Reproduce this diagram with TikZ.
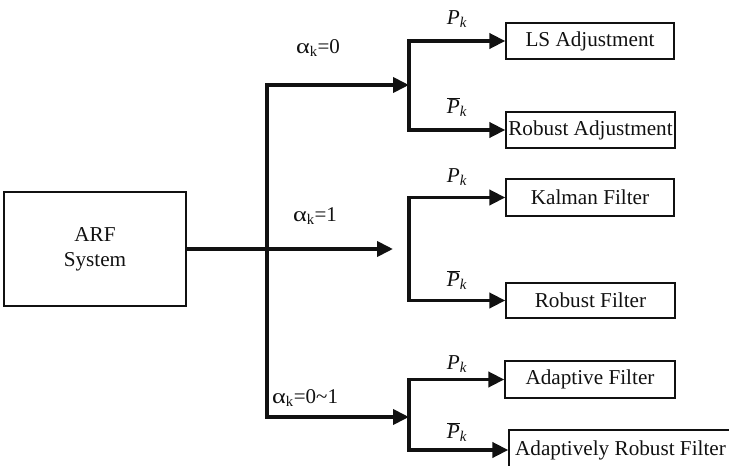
\documentclass[tikz,border=0pt]{standalone}
\usepackage{fontspec}
\setmainfont{Liberation Serif}
\usepackage{tikz}
\usetikzlibrary{arrows.meta,positioning}
\definecolor{trazo}{HTML}{111111}
\tikzset{
  caja/.style={draw=trazo,line width=1.3pt,inner sep=0pt,minimum height=36pt,font=\fontsize{21.2}{25}\selectfont,text=trazo,align=center},
  linea/.style={draw=trazo,line width=3.8pt},
  punta/.style={-{Triangle[length=16pt,width=15pt]}},
  rotulo/.style={font=\fontsize{21.2}{25}\selectfont,text=trazo,inner sep=0pt},
  alfa/.style={font=\fontsize{21}{25}\selectfont,text=trazo,inner sep=0pt},
}
\newcommand{\Pk}{\textit{P}\textsubscript{\textit{k}}}
\newcommand{\Pbk}{$\overline{\mbox{\textit{P}}}$\textsubscript{\textit{k}}}
\newcommand{\ak}{\scalebox{1.25}[1]{α}\textsubscript{k}}
\begin{document}
\begin{tikzpicture}[x=1pt,y=-1pt]
\clip (0,0) rectangle (729,466);
\node[caja,minimum width=182pt,minimum height=114pt] (arf) at (95,249) {ARF\\System};
\node[caja,minimum width=168pt] (ls) at (590,41) {LS Adjustment};
\node[caja,minimum width=169pt] (ra) at (590.5,130) {Robust Adjustment};
\node[caja,minimum width=168pt,minimum height=37pt] (kf) at (590,197.5) {Kalman Filter};
\node[caja,minimum width=169pt,minimum height=35pt] (rf) at (590.5,300.5) {Robust Filter};
\node[caja,minimum width=170pt,minimum height=37pt] (af) at (590,379.5) {Adaptive Filter};
\node[caja,minimum width=223pt,minimum height=40pt] (arfil) at (620.5,450) {Adaptively Robust Filter};
\coordinate (tronco) at (267,85);
\coordinate (pie) at (267,417);
\coordinate (r1) at (409,85);
\coordinate (r2) at (393,249);
\coordinate (r3) at (409,417);
% tronco y ramas
\draw[linea,{Triangle[length=16pt,width=15pt]}-{Triangle[length=16pt,width=15pt]}] (r1) -- (tronco) -- (pie) -- (r3);
\draw[linea,punta] (arf.east) -- (r2);
\draw[linea,{Triangle[length=16pt,width=15pt]}-{Triangle[length=16pt,width=15pt]}] (ls.west) -- (ls.west -| r1) -- (ra.west -| r1) -- (ra.west);
\draw[linea,{Triangle[length=16pt,width=15pt]}-{Triangle[length=16pt,width=15pt]}] (kf.west) -- (kf.west -| r1) -- (rf.west -| r1) -- (rf.west);
\draw[linea,{Triangle[length=16pt,width=15pt]}-{Triangle[length=16pt,width=15pt]}] (af.west) -- (af.west -| r3) -- (arfil.west -| r3) -- (arfil.west);
% rotulos
\node[alfa] (a1) at (318,48) {\ak=0};
\node[alfa] (a2) at (315,216) {\ak=1};
\node[alfa,anchor=west] (a3) at (272,398) {\ak=0\char`\~1};
\node[rotulo] (p1) at (457,19) {\Pk};
\node[rotulo] (q1) at (457,107) {\Pbk};
\node[rotulo] (p2) at (457,177) {\Pk};
\node[rotulo] (q2) at (457,280) {\Pbk};
\node[rotulo] (p3) at (457,364) {\Pk};
\node[rotulo] (q3) at (457,432) {\Pbk};
\end{tikzpicture}
\end{document}
